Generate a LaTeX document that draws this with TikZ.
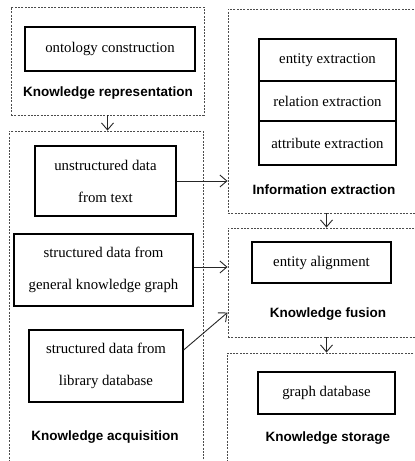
\documentclass[tikz,border=0pt]{standalone}
\usepackage{fontspec}
\setmainfont{Liberation Serif}
\newfontfamily\labfont{Liberation Sans}
\usetikzlibrary{arrows.meta}
\tikzset{
  outer/.style={draw=black!70, line width=0.9pt, dash pattern=on 2pt off 1.3pt, rectangle, inner sep=0pt},
  inbox/.style={draw=black, line width=1.3pt, rectangle, inner sep=0pt, align=center,
     font=\fontsize{14.8}{32}\selectfont},
  lab/.style={font=\labfont\bfseries\fontsize{13.5}{16}\selectfont, inner sep=0pt},
  arr/.style={-{Straight Barb[length=7pt,width=12pt]}, line width=0.9pt, black!85}
}
\begin{document}
\begin{tikzpicture}[x=1pt,y=-1pt]
\useasboundingbox (0,0) rectangle (415,461);
\clip (0,0) rectangle (415,461);
% outer dashed boxes
\node[outer, minimum width=193pt, minimum height=108pt] (rep) at (107.5,61) {};
\node[outer, minimum width=194pt, minimum height=339pt] (acq) at (106,300.5) {};
\node[outer, minimum width=197pt, minimum height=204pt] (ie) at (326.5,111) {};
\node[outer, minimum width=197pt, minimum height=109pt] (fus) at (326.5,282.5) {};
\node[outer, minimum width=198pt, minimum height=117pt] (sto) at (326,411.5) {};
% inner boxes
\node[inbox, minimum width=170pt, minimum height=44pt] (onto) at (110,49) {ontology construction};
\node[inbox, minimum width=141pt, minimum height=70pt] (unstr) at (105.5,181) {unstructured data\\from text};
\node[inbox, minimum width=179pt, minimum height=72pt] (gen) at (103.5,270) {structured data from\\general knowledge graph};
\node[inbox, minimum width=154pt, minimum height=72pt] (lib) at (106,366) {structured data from\\library database};
\node[inbox, minimum width=137pt, minimum height=42pt] (ent) at (327.5,60) {entity extraction};
\node[inbox, minimum width=137pt, minimum height=40pt] (rel) at (327.5,101) {relation extraction};
\node[inbox, minimum width=137pt, minimum height=44pt] (att) at (327.5,143) {attribute extraction};
\node[inbox, minimum width=139pt, minimum height=41pt] (ali) at (321.5,262.5) {entity alignment};
\node[inbox, minimum width=137pt, minimum height=42pt] (gdb) at (326.5,393) {graph database};
% labels
\node[lab] (lrep) at (108,93) {Knowledge representation};
\node[lab] (lacq) at (105,437) {Knowledge acquisition};
\node[lab] (lie) at (324,190) {Information extraction};
\node[lab] (lfus) at (328,314) {Knowledge fusion};
\node[lab] (lsto) at (328,438) {Knowledge storage};
% arrows
\draw[arr] (rep.south) -- (rep.south |- acq.north);
\draw[arr] (unstr.east) -- (unstr.east -| ie.west);
\draw[arr] ([yshift=3pt]gen.east) -- ([yshift=3pt]gen.east -| fus.west);
\draw[arr] ([yshift=16pt]lib.east) -- ([yshift=-30pt]fus.west);
\draw[arr] (ie.south) -- (ie.south |- fus.north);
\draw[arr] (fus.south) -- (fus.south |- sto.north);
\end{tikzpicture}
\end{document}
